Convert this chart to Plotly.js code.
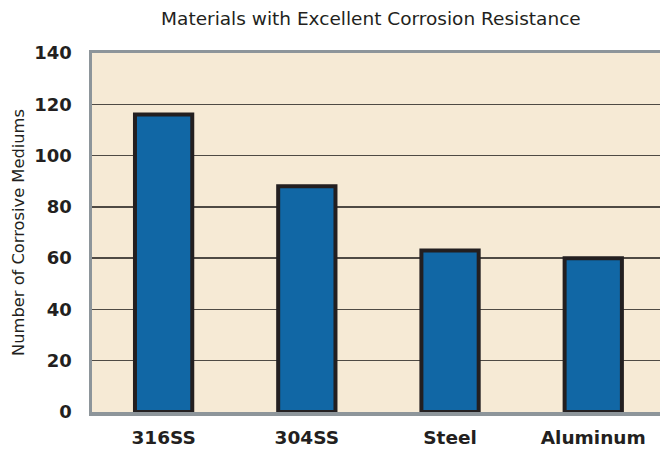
<!DOCTYPE html>
<html>
<head>
<meta charset="utf-8">
<script src="https://cdn.plot.ly/plotly-3.0.1.min.js"></script>
<style>
  html, body { margin: 0; padding: 0; background: #ffffff; }
  #chart { width: 660px; height: 452px; }
</style>
</head>
<body>
<div id="chart"></div>
<script>
// Number of corrosive media each material resists excellently
const materials = ['316SS', '304SS', 'Steel', 'Aluminum'];
const mediumCounts = [116, 88, 63, 60];
const yTickValues = [0, 20, 40, 60, 80, 100, 120, 140];

const ink = '#231f20';
const frameGray = '#8d959a';

const trace = {
  type: 'bar',
  x: materials,
  y: mediumCounts,
  width: 0.4,
  marker: {
    color: '#1167a5',
    line: { color: ink, width: 4 }
  },
  hoverinfo: 'x+y'
};

const layout = {
  width: 660,
  height: 452,
  margin: { l: 92, r: 0, t: 53, b: 40, pad: 0 },
  paper_bgcolor: '#ffffff',
  plot_bgcolor: '#f6ead5',
  showlegend: false,
  bargap: 0.6,
  title: {
    text: 'Materials with Excellent Corrosion Resistance',
    font: { family: 'DejaVu Sans', size: 18.5, color: ink },
    x: 0.562,
    xanchor: 'center',
    xref: 'container',
    y: 0.96,
    yref: 'container',
    yanchor: 'middle'
  },
  xaxis: {
    type: 'category',
    range: [-0.5, 3.466],
    showgrid: false,
    zeroline: false,
    showline: true,
    mirror: true,
    linecolor: frameGray,
    linewidth: 3.5,
    ticks: '',
    ticklabelstandoff: 6,
    tickfont: { family: 'DejaVu Sans', size: 18.5, color: ink, weight: 'bold' },
    fixedrange: true
  },
  yaxis: {
    range: [0, 140],
    tickvals: yTickValues,
    ticktext: yTickValues.map(String),
    showgrid: true,
    gridcolor: '#4f4a44',
    gridwidth: 1.5,
    zeroline: false,
    showline: true,
    mirror: false,
    linecolor: frameGray,
    linewidth: 3.5,
    ticks: '',
    ticklabelstandoff: 13,
    tickfont: { family: 'DejaVu Sans', size: 18, color: ink, weight: 'bold' },
    title: {
      text: 'Number of Corrosive Mediums',
      font: { family: 'DejaVu Sans', size: 16.3, color: ink },
      standoff: 6
    },
    fixedrange: true
  }
};

Plotly.newPlot('chart', [trace], layout, { displayModeBar: false, staticPlot: true });
</script>
</body>
</html>
